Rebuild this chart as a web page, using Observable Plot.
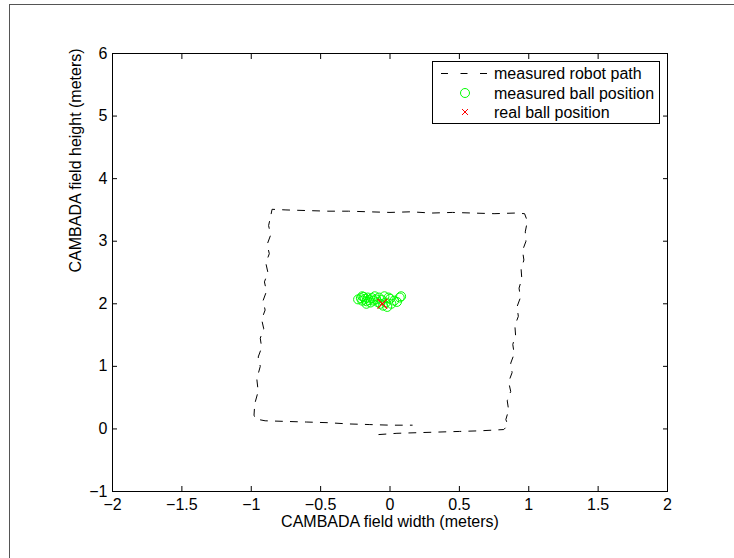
<!DOCTYPE html>
<html>
<head>
<meta charset="utf-8">
<script src="https://cdn.jsdelivr.net/npm/d3@7"></script>
<script src="https://cdn.jsdelivr.net/npm/@observablehq/plot@0.6"></script>
<style>
  html, body { margin: 0; padding: 0; background: #fff; overflow: hidden; }
  #wrap { position: relative; width: 734px; height: 558px; font-family: "Liberation Sans", Arial, sans-serif; }
  #outer { position: absolute; left: 9px; top: 4px; width: 800px; height: 700px; border-left: 1px solid #555; border-top: 1px solid #555; box-sizing: border-box; }
</style>
</head>
<body>
<div id="wrap"><div id="outer"></div></div>
<script>
// ---- data ----
const xTicks = [-2, -1.5, -1, -0.5, 0, 0.5, 1, 1.5, 2];
const yTicks = [-1, 0, 1, 2, 3, 4, 5, 6];

// measured robot path (meters)
const pathX = [
  -0.08, 0.05, 0.2, 0.35, 0.5, 0.65, 0.82,
  0.85, 0.835, 0.855, 0.845, 0.87, 0.855, 0.88, 0.87, 0.895, 0.885, 0.905, 0.9, 0.925, 0.915, 0.94, 0.93, 0.95, 0.945, 0.965, 0.955, 0.98, 0.975, 0.99, 0.97,
  0.9, 0.75, 0.6, 0.45, 0.3, 0.15, 0.0, -0.15, -0.3, -0.45, -0.6, -0.75, -0.85,
  -0.86, -0.875, -0.86, -0.885, -0.87, -0.895, -0.88, -0.905, -0.89, -0.915, -0.9, -0.925, -0.91, -0.935, -0.925, -0.95, -0.935, -0.96, -0.95, -0.975, -0.98, -0.97,
  -0.9, -0.75, -0.6, -0.45, -0.3, -0.15, 0.0, 0.16
];
const pathY = [
  -0.09, -0.07, -0.06, -0.05, -0.04, -0.03, -0.01,
  0.06, 0.15, 0.3, 0.45, 0.6, 0.75, 0.9, 1.05, 1.2, 1.35, 1.5, 1.65, 1.8, 1.95, 2.1, 2.25, 2.4, 2.55, 2.7, 2.85, 3.0, 3.15, 3.32, 3.44,
  3.45, 3.44, 3.45, 3.46, 3.45, 3.47, 3.46, 3.47, 3.48, 3.48, 3.49, 3.5, 3.51,
  3.4, 3.25, 3.1, 2.95, 2.8, 2.65, 2.5, 2.35, 2.2, 2.05, 1.9, 1.75, 1.6, 1.45, 1.3, 1.15, 1.0, 0.8, 0.6, 0.4, 0.22, 0.16,
  0.13, 0.12, 0.11, 0.1, 0.08, 0.07, 0.06, 0.06
];

// measured ball positions (meters)
const ballX = [-0.23, -0.21, -0.2, -0.19, -0.18, -0.17, -0.16, -0.15, -0.14, -0.13, -0.12, -0.11, -0.1, -0.09, -0.08, -0.07, -0.06, -0.05, -0.04, -0.03, -0.02, 0.0, 0.01, 0.03, -0.01, 0.07, 0.08, 0.05, -0.17, -0.2];
const ballY = [2.07, 2.09, 2.05, 2.11, 2.08, 2.04, 2.1, 2.06, 2.02, 2.09, 2.05, 2.12, 2.07, 2.03, 2.1, 2.0, 2.06, 1.97, 2.12, 2.02, 1.95, 2.08, 2.0, 2.05, 2.1, 2.1, 2.12, 2.03, 2.0, 2.12];

// real ball position
const realX = [-0.055];
const realY = [2.0];

const legendLabels = ["measured robot path", "measured ball position", "real ball position"];
const xLabel = "CAMBADA field width (meters)";
const yLabel = "CAMBADA field height (meters)";

// ---- build ----
const path = pathX.map((x, i) => ({x, y: pathY[i]}));
const balls = ballX.map((x, i) => ({x, y: ballY[i]}));
const real = realX.map((x, i) => ({x, y: realY[i]}));

const fmt = d => (d < 0 ? "\u2212" : "") + String(Math.abs(d));
const FONT = 16;
const chart = Plot.plot({
  width: 734,
  height: 558,
  marginLeft: 112,
  marginRight: 67,
  marginTop: 53,
  marginBottom: 67,
  style: { fontFamily: "'Liberation Sans', Arial, sans-serif", fontSize: FONT + "px", background: "transparent", overflow: "visible" },
  x: { domain: [-2, 2] },
  y: { domain: [-1, 6] },
  marks: [
    Plot.frame({ stroke: "black", strokeWidth: 1 }),
    Plot.axisX(xTicks, { anchor: "bottom", tickSize: -5, tickPadding: 12, tickFormat: fmt, label: null, stroke: "black", fill: "black", fontSize: FONT }),
    Plot.axisX(xTicks, { anchor: "top", tickSize: -5, tickFormat: () => "", label: null, stroke: "black" }),
    Plot.axisY(yTicks, { anchor: "left", tickSize: -5, tickPadding: 10, tickFormat: fmt, label: null, stroke: "black", fill: "black", fontSize: FONT }),
    Plot.axisY(yTicks, { anchor: "right", tickSize: -5, tickFormat: () => "", label: null, stroke: "black" }),
    Plot.line(path, { x: "x", y: "y", stroke: "black", strokeWidth: 1, strokeDasharray: "7,8", curve: "linear" }),
    Plot.dot(balls, { x: "x", y: "y", r: 4.5, stroke: "#00ff00", strokeWidth: 1, fill: "none" }),
    Plot.dot(real, { x: "x", y: "y", r: 4.5, symbol: "times", stroke: "#ff0000", strokeWidth: 1.2 }),
    Plot.text([xLabel], { frameAnchor: "bottom", dy: 35, text: d => d, fill: "black", fontSize: FONT }),
    Plot.text([yLabel], { frameAnchor: "left", dx: -37, rotate: -90, text: d => d, fill: "black", fontSize: FONT })
  ]
});
chart.style.position = "absolute";
chart.style.left = "0px";
chart.style.top = "0px";
document.getElementById("wrap").appendChild(chart);

// ---- legend (overlay) ----
const ns = "http://www.w3.org/2000/svg";
const lg = document.createElementNS(ns, "svg");
lg.setAttribute("width", 734);
lg.setAttribute("height", 558);
lg.style.position = "absolute";
lg.style.left = "0px";
lg.style.top = "0px";
const box = { x: 432, y: 61, w: 227, h: 62 };
const rows = [73, 93, 112];
let html = `<rect x="${box.x + 0.5}" y="${box.y + 0.5}" width="${box.w}" height="${box.h}" fill="white" stroke="black" stroke-width="1"/>`;
html += `<line x1="441" x2="488" y1="${rows[0] + 0.5}" y2="${rows[0] + 0.5}" stroke="black" stroke-width="1" stroke-dasharray="7,12.5"/>`;
html += `<circle cx="465" cy="${rows[1]}" r="4.5" fill="none" stroke="#00ff00" stroke-width="1"/>`;
html += `<path d="M462,${rows[2] - 3}L468,${rows[2] + 3}M462,${rows[2] + 3}L468,${rows[2] - 3}" stroke="#ff0000" stroke-width="1"/>`;
legendLabels.forEach((t, i) => {
  html += `<text x="494" y="${rows[i]}" dy="0.35em" font-family="'Liberation Sans', Arial, sans-serif" font-size="${FONT}" fill="black">${t}</text>`;
});
lg.innerHTML = html;
document.getElementById("wrap").appendChild(lg);
</script>
</body>
</html>
